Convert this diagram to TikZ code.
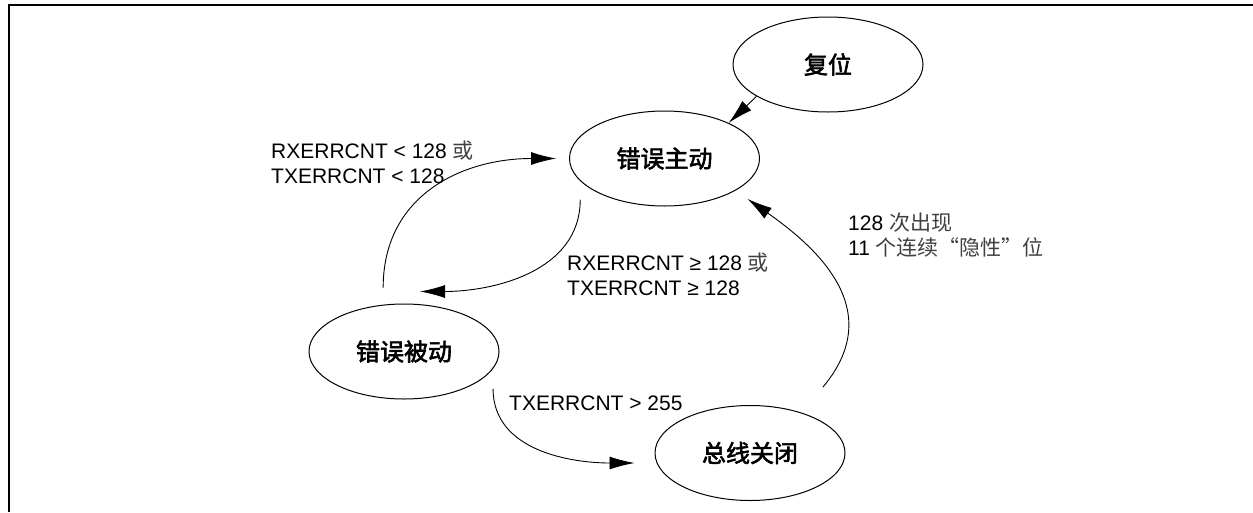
\documentclass[tikz,border=0pt]{standalone}
\usepackage{fontspec}
\setmainfont{Liberation Sans}
\newfontfamily\cjk{Noto Sans CJK SC}
\newfontfamily\cjkbold[FakeBold=2.5]{Noto Sans CJK SC}
\usetikzlibrary{shapes.geometric,arrows.meta,positioning}

\tikzset{
  state/.style={draw, ellipse, line width=1pt, minimum width=190pt, minimum height=95pt,
    inner sep=0pt, font=\cjkbold\fontsize{24}{28}\selectfont},
  cond/.style={anchor=base west, align=left, inner sep=0pt, font=\fontsize{21}{24.5}\selectfont},
  trans/.style={line width=0.9pt, -{Latex[length=25pt,width=13pt]}}
}
\newcommand{\zh}[1]{{\cjk\color{black!75}#1}}

\begin{document}
\begin{tikzpicture}[x=1pt, y=1pt]
            \useasboundingbox (0,0) rectangle (1253,-512);
            % frame, top and left only
            \draw[line width=2pt] (1253,-5) -- (9,-5) -- (9,-512);

            % --- States ---
            \node[state] (reset) at (828,-64.5) {复位};
            \node[state] (active) at (664.5,-158.5) {错误主动};
            \node[state] (passive) at (404,-351.5) {错误被动};
            \node[state] (busoff) at (750,-453) {总线关闭};

            % --- Conditions (anchored on the last line) ---
            \node[cond] (cback) at (271,-183) {RXERRCNT < 128 \zh{或}\\TXERRCNT < 128};
            \node[cond] (cdown) at (567,-295) {RXERRCNT ≥ 128 \zh{或}\\TXERRCNT ≥ 128};
            \node[cond] (crecover) at (848,-255) {128 \zh{次出现}\\11 \zh{个连续“隐性”位}};
            \node[cond] (coff) at (509,-410) {TXERRCNT > 255};

            % --- Transitions ---
            \draw[trans] (reset.204) -- (active.29);
            \draw[trans] ([yshift=17pt]passive.114) to[out=90, in=180, looseness=1.1] ([xshift=-13pt]active.west);
            \draw[trans] ([yshift=-18.5pt]active.195) to[out=-90, in=0] ([xshift=16pt, yshift=12pt]passive.north);
            \draw[trans] ([yshift=-20pt]passive.-11) to[out=-90, in=180] ([xshift=-20pt, yshift=-10pt]busoff.west);
            \draw[trans] ([yshift=35pt]busoff.23) to[out=50, in=-35, looseness=1.2] ([yshift=-16.6pt]active.-16);
\end{tikzpicture}
\end{document}
